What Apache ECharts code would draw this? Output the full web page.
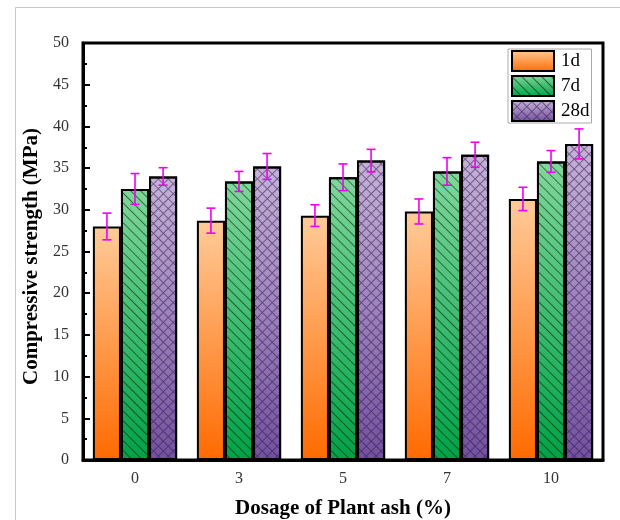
<!DOCTYPE html>
<html><head><meta charset="utf-8">
<script src="https://cdn.jsdelivr.net/npm/echarts@6/dist/echarts.min.js"></script>
<style>html,body{margin:0;padding:0;background:#fff}#c{width:620px;height:520px}</style>
</head><body><div id="c"></div>
<script>
const categories = ['0', '3', '5', '7', '10'];
const seriesNames = ['1d', '7d', '28d'];
const strength1d = [28.0, 28.7, 29.3, 29.8, 31.3];
const strength7d = [32.5, 33.4, 33.9, 34.6, 35.8];
const strength28d = [34.0, 35.2, 35.9, 36.6, 37.9];
const error1d = [1.6, 1.5, 1.3, 1.5, 1.4];
const error7d = [1.85, 1.2, 1.6, 1.65, 1.3];
const error28d = [1.05, 1.55, 1.35, 1.5, 1.8];
const yTicks = { min: 0, max: 50, interval: 5, minorInterval: 2.5 };

const values = [strength1d, strength7d, strength28d];
const errors = [error1d, error7d, error28d];
const SERIF = 'Liberation Serif';
const BAR_FRAC = 0.27;
function grad(top, bottom) {
  return { type: 'linear', x: 0, y: 0, x2: 0, y2: 1,
    colorStops: [{ offset: 0, color: top }, { offset: 1, color: bottom }] };
}
const fills = [grad('#ffcb99', '#ff6a00'), grad('#7fd89b', '#00a246'), grad('#c7b3d9', '#72509f')];
const decals = [
  null,
  { symbol: 'rect', symbolSize: 1, dashArrayX: [1, 0], dashArrayY: [1, 6], rotation: Math.PI / 4, color: 'rgba(0,0,0,0.5)' },
  { symbol: 'rect', symbolSize: 1, dashArrayX: [[7, 0], [1, 6]], dashArrayY: [1, 0, 6, 0], rotation: Math.PI / 4, color: 'rgba(45,25,70,0.55)' }
];

const series = [];
seriesNames.forEach((name, k) => {
  const st = { color: fills[k], borderColor: '#000', borderWidth: 2 };
  if (decals[k]) st.decal = decals[k];
  series.push({
    name: name, type: 'bar', xAxisIndex: 0, yAxisIndex: 0, barWidth: (BAR_FRAC * 100) + '%', barGap: '0%',
    itemStyle: st, data: values[k], z: 2
  });
});
seriesNames.forEach((name, k) => {
  series.push({
    name: 'err' + name, type: 'custom', xAxisIndex: 0, yAxisIndex: 0, z: 10,
    data: categories.map((c, i) => [i, values[k][i], errors[k][i]]),
    encode: { x: 0, y: 1 },
    renderItem: function (params, api) {
      const i = api.value(0), m = api.value(1), e = api.value(2);
      const band = api.size([1, 0])[0];
      const cx = api.coord([i, m])[0] + (k - 1) * band * BAR_FRAC;
      const yt = api.coord([i, m + e])[1], yb = api.coord([i, m - e])[1];
      const st = { stroke: '#ee00ee', lineWidth: 1.6 };
      return { type: 'group', children: [
        { type: 'line', shape: { x1: cx, y1: yt, x2: cx, y2: yb }, style: st },
        { type: 'line', shape: { x1: cx - 4.5, y1: yt, x2: cx + 4.5, y2: yt }, style: st },
        { type: 'line', shape: { x1: cx - 4.5, y1: yb, x2: cx + 4.5, y2: yb }, style: st }
      ] };
    }
  });
});

const chart = echarts.init(document.getElementById('c'), null, { renderer: 'canvas' });
chart.setOption({
  animation: false,
  backgroundColor: '#fff',
  textStyle: { fontFamily: SERIF },
  graphic: [{ type: 'rect', left: 13, top: 5, shape: { width: 700, height: 600 },
    style: { fill: 'none', stroke: '#c8c8c8', lineWidth: 1 }, silent: true, z: -10 }],
  grid: { left: 83, right: 17, top: 43, bottom: 60, outerBoundsMode: 'none', containLabel: false,
    show: true, borderColor: '#000', borderWidth: 3, backgroundColor: 'transparent' },
  legend: {
    data: seriesNames, left: 508, top: 49, orient: 'vertical',
    itemWidth: 42, itemHeight: 20, itemGap: 3, padding: [1, 2, 1, 3],
    borderColor: '#aaa', borderWidth: 1, backgroundColor: '#fff',
    itemStyle: { borderColor: '#000', borderWidth: 2 },
    textStyle: { fontFamily: SERIF, fontSize: 19, color: '#000', padding: [0, 0, 0, 2] },
    icon: 'rect'
  },
  xAxis: [{
    type: 'category', data: categories, position: 'bottom',
    axisLine: { lineStyle: { color: '#000', width: 3 } },
    axisTick: { alignWithLabel: true, inside: true, length: 7, lineStyle: { color: '#000', width: 2 } },
    axisLabel: { fontFamily: SERIF, fontSize: 16, color: '#333', margin: 11 },
    name: 'Dosage of Plant ash (%)', nameLocation: 'middle', nameGap: 38,
    nameTextStyle: { fontFamily: SERIF, fontSize: 21, fontWeight: 'bold', color: '#000' }
  }, {
    type: 'category', data: categories, position: 'bottom',
    axisLine: { show: false },
    axisTick: { inside: true, length: 3, lineStyle: { color: '#000', width: 2 } },
    axisLabel: { show: false }
  }],
  yAxis: [{
    type: 'value', min: yTicks.min, max: yTicks.max, interval: yTicks.interval,
    axisLine: { show: true, lineStyle: { color: '#000', width: 3 } },
    axisTick: { show: true, inside: true, length: 7, lineStyle: { color: '#000', width: 2 } },
    splitLine: { show: false },
    axisLabel: { fontFamily: SERIF, fontSize: 16, color: '#333', margin: 14 },
    name: 'Compressive strength (MPa)', nameLocation: 'middle', nameGap: 28,
    nameTextStyle: { fontFamily: SERIF, fontSize: 21, fontWeight: 'bold', color: '#000', padding: [0, 10, 0, 0] }
  }, {
    type: 'value', position: 'left', min: yTicks.min, max: yTicks.max, interval: yTicks.minorInterval,
    axisLine: { show: false },
    axisTick: { show: true, inside: true, length: 4, lineStyle: { color: '#000', width: 2 } },
    splitLine: { show: false },
    axisLabel: { show: false }
  }],
  series: series
});
</script></body></html>
